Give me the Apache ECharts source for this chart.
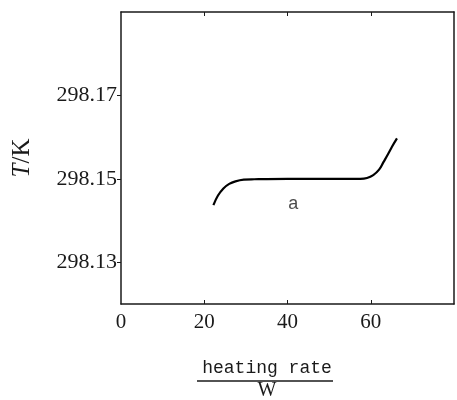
<!DOCTYPE html>
<html>
<head>
<meta charset="utf-8">
<script src="https://cdn.jsdelivr.net/npm/echarts@6/dist/echarts.min.js"></script>
<style>
html,body{margin:0;padding:0;background:#fff;}
#c{width:457px;height:400px;}
</style>
</head>
<body>
<div id="c"></div>
<script>
// Data
var heatingRate = [22.2, 23.3, 24.6, 26.0, 27.5, 29.5, 32.0, 40.0, 50.0, 57.5, 59.1, 60.6, 62.0, 63.05, 64.2, 65.1, 66.3];
var temperature = [298.1437, 298.1460, 298.1477, 298.1488, 298.1494, 298.1498, 298.1499, 298.1500, 298.1500, 298.1500, 298.1502, 298.1509, 298.1522, 298.1540, 298.1560, 298.1577, 298.1597];
var xTicks = [0, 20, 40, 60];
var yTicks = [298.13, 298.15, 298.17];
var curveLabel = ['a'];
var curveLabelX = [41.4];
var curveLabelY = [298.1440];

var ink = '#1a1a1a';
var serif = 'Liberation Serif';

var lineData = heatingRate.map(function (x, i) { return [x, temperature[i]]; });
var labelData = curveLabel.map(function (t, i) { return { value: [curveLabelX[i], curveLabelY[i]], name: t }; });

var chart = echarts.init(document.getElementById('c'), null, { renderer: 'canvas' });
chart.setOption({
  backgroundColor: '#fff',
  animation: false,
  grid: { left: 121, right: 3, top: 12, bottom: 96 },
  xAxis: [{
    type: 'value', min: 0, max: 80, interval: 20, position: 'bottom',
    axisLine: { show: true, onZero: false, lineStyle: { color: ink, width: 1.5 } },
    axisTick: { show: true, inside: true, length: 4, customValues: [20, 40, 60], lineStyle: { color: ink, width: 1 } },
    axisLabel: { customValues: xTicks, margin: 8, color: ink, fontFamily: serif, fontSize: 21 },
    splitLine: { show: false }
  }, {
    type: 'value', min: 0, max: 80, interval: 20, position: 'top',
    axisLine: { show: true, onZero: false, lineStyle: { color: ink, width: 1.5 } },
    axisTick: { show: true, inside: true, length: 4, customValues: [20, 40, 60], lineStyle: { color: ink, width: 1 } },
    axisLabel: { show: false },
    splitLine: { show: false }
  }],
  yAxis: [{
    type: 'value', min: 298.12, max: 298.19, position: 'left',
    axisLine: { show: true, onZero: false, lineStyle: { color: ink, width: 1.5 } },
    axisTick: { show: true, inside: false, length: 4, customValues: yTicks, lineStyle: { color: ink, width: 1 } },
    axisLabel: { customValues: yTicks, margin: 4, color: ink, fontFamily: serif, fontSize: 22,
      formatter: function (v) { return v.toFixed(2); } },
    splitLine: { show: false },
    name: '{i|T}{r|/K}', nameLocation: 'middle', nameGap: 86, nameRotate: 90,
    nameTextStyle: { rich: {
      i: { fontFamily: serif, fontStyle: 'italic', fontSize: 25, color: ink },
      r: { fontFamily: serif, fontSize: 25, color: ink }
    } }
  }, {
    type: 'value', min: 298.12, max: 298.19, position: 'right',
    axisLine: { show: true, onZero: false, lineStyle: { color: ink, width: 1.5 } },
    axisTick: { show: false }, axisLabel: { show: false }, splitLine: { show: false }
  }],
  series: [{
    type: 'line', xAxisIndex: 0, yAxisIndex: 0,
    data: lineData, smooth: 0.4, showSymbol: false, symbol: 'none',
    lineStyle: { color: '#000', width: 2.2 }
  }, {
    type: 'scatter', xAxisIndex: 0, yAxisIndex: 0,
    data: labelData, symbol: 'circle', symbolSize: 1, itemStyle: { color: 'rgba(0,0,0,0)' },
    label: { show: true, position: 'inside', formatter: '{b}', color: ink, fontFamily: 'Liberation Sans', fontSize: 18 }
  }],
  graphic: [
    { type: 'text', style: { text: 'heating rate', x: 267, y: 368, align: 'center', verticalAlign: 'middle', font: '18px "Liberation Mono"', fill: ink } },
    { type: 'line', shape: { x1: 197, y1: 381, x2: 333, y2: 381 }, style: { stroke: ink, lineWidth: 1.5 } },
    { type: 'text', style: { text: 'W', x: 267, y: 391, align: 'center', verticalAlign: 'middle', font: '20px "Liberation Serif"', fill: ink } }
  ]
});
</script>
</body>
</html>
